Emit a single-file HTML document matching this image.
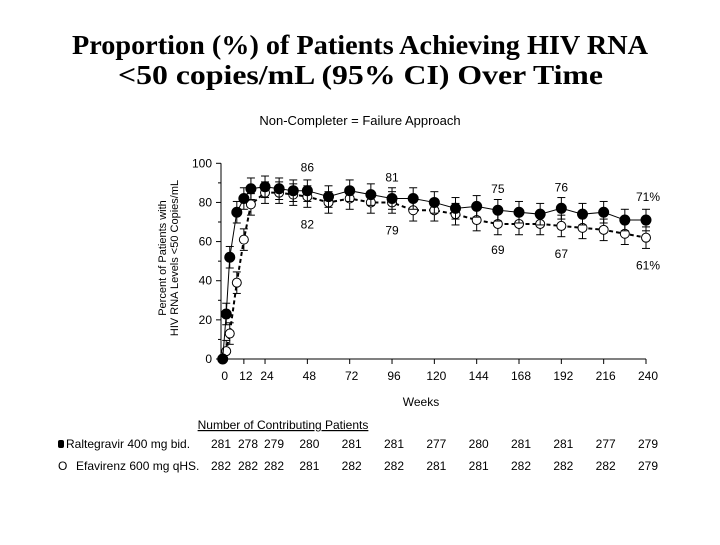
<!DOCTYPE html>
<html><head><meta charset="utf-8"><style>
body{margin:0;background:#fff;width:720px;height:540px;overflow:hidden}
svg text{font-family:"Liberation Sans",sans-serif}
</style></head><body>
<svg id="c" width="720" height="540">
<text x="72" y="54" textLength="576" lengthAdjust="spacingAndGlyphs" style="font-family:'Liberation Serif',serif;font-weight:bold;font-size:27px">Proportion (%) of Patients Achieving HIV RNA</text>
<text x="118" y="84" textLength="485" lengthAdjust="spacingAndGlyphs" style="font-family:'Liberation Serif',serif;font-weight:bold;font-size:27px">&lt;50 copies/mL (95% CI) Over Time</text>
<text x="360" y="125" text-anchor="middle" font-size="13">Non-Completer = Failure Approach</text>
<text transform="translate(166,258) rotate(-90)" text-anchor="middle" font-size="11">Percent of Patients with</text>
<text transform="translate(178,258) rotate(-90)" text-anchor="middle" font-size="11">HIV RNA Levels &lt;50 Copies/mL</text>
<text x="421" y="406" text-anchor="middle" font-size="12">Weeks</text>
<g id="plot"></g>
<text x="283" y="429" text-anchor="middle" font-size="12" text-decoration="underline">Number of Contributing Patients</text>
<rect x="58" y="440" width="6" height="8" rx="2" fill="#000"/>
<text x="66" y="448" font-size="12">Raltegravir 400 mg bid.</text>
<text x="58" y="470" font-size="12">O</text>
<text x="76" y="470" font-size="12">Efavirenz 600 mg qHS.</text>
<g id="tbl"></g>
</svg>
<script>
const weeksA=[0,2,4,8,12,16,24,32,40,48,60,72,84,96,108,120,132,144,156,168,180,192,204,216,228,240];
const ralVals=[0,23,52,75,82,87,88,87,86,86,83,86,84,82,82,80,77,78,76,75,74,77,74,75,71,71];
const efvVals=[0,4,13,39,61,79,85,85,84,83,80,82,80,80,76,76,74,71,69,69,69,68,67,66,64,62];
const errHalf=5.5;
const xTicks=[0,12,24,48,72,96,120,144,168,192,216,240];
const yTicks=[0,20,40,60,80,100];
const annotations=[[48,86,"86",-1],[48,82,"82",1],[96,81,"81",-1],[96,79,"79",1],[156,75,"75",-1],[156,69,"69",1],[192,76,"76",-1],[192,67,"67",1],[240,71,"71%",-1],[240,61,"61%",1]];
const ralN=["281","278","279","280","281","281","277","280","281","281","277","279"];
const efvN=["282","282","282","281","282","282","281","281","282","282","282","279"];
const X=w=>222.7+w*423.3/240, Y=v=>359-v*1.957;
const NS="http://www.w3.org/2000/svg";
const plot=document.getElementById('plot');
function mk(t,a,p){const e=document.createElementNS(NS,t);for(const k in a)e.setAttribute(k,a[k]);(p||plot).appendChild(e);return e;}
let e=mk('line',{x1:221,y1:Y(100),x2:221,y2:359,stroke:'#000'});


e=mk('line',{x1:221,y1:359,x2:X(240),y2:359,stroke:'#000'});


yTicks.forEach(v=>{mk('line',{x1:216,y1:Y(v),x2:221,y2:Y(v),stroke:'#000'});
 e=mk('text',{x:212,y:Y(v)+4,'text-anchor':'end','font-size':12});e.textContent=v;
 
 
 if(v<100)mk('line',{x1:218,y1:Y(v+10),x2:221,y2:Y(v+10),stroke:'#000'});});
xTicks.forEach(w=>{mk('line',{x1:X(w),y1:359,x2:X(w),y2:364,stroke:'#000'});
 e=mk('text',{x:X(w)+2,y:380,'text-anchor':'middle','font-size':12});e.textContent=w;
 
 });
function series(vals,dash,fill,name){
 const pts=weeksA.map((w,i)=>X(w)+','+Y(vals[i])).join(' ');
 e=mk('polyline',{points:pts,fill:'none',stroke:'#000','stroke-width':dash?2:1,'stroke-dasharray':dash?'4,3':'none'});
 
 
 weeksA.forEach((w,i)=>{const x=X(w),v=vals[i];
  if(v>0){const y1=Y(Math.min(100,v+errHalf)),y2=Y(Math.max(0,v-errHalf));
   mk('line',{x1:x,y1:y1,x2:x,y2:y2,stroke:'#000'});
   mk('line',{x1:x-4,y1:y1,x2:x+4,y2:y1,stroke:'#000'});
   mk('line',{x1:x-4,y1:y2,x2:x+4,y2:y2,stroke:'#000'});}
  e=mk('circle',{cx:x,cy:Y(v),r:fill?5:4.5,fill:fill?'#000':'#fff',stroke:'#000'});
  
  });
}
series(efvVals,true,false,'efavirenz');
series(ralVals,false,true,'raltegravir');
annotations.forEach(a=>{e=mk('text',{x:X(a[0])+(a[2].length>2?2:0),y:a[3]<0?Y(a[1])-19:Y(a[1])+30,'text-anchor':'middle','font-size':12});e.textContent=a[2];
 
 });
const tbl=document.getElementById('tbl');
const colX=[221,248,274].concat(xTicks.slice(3).map(w=>X(w)+2));
ralN.forEach((n,i)=>{e=mk('text',{x:colX[i],y:448,'text-anchor':'middle','font-size':12},tbl);e.textContent=n;
 
 });
efvN.forEach((n,i)=>{e=mk('text',{x:colX[i],y:470,'text-anchor':'middle','font-size':12},tbl);e.textContent=n;
 
 });
</script>
</body></html>
